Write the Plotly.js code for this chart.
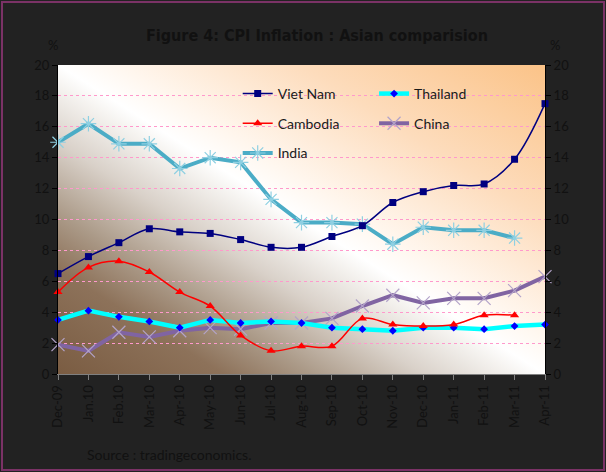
<!DOCTYPE html>
<html>
<head>
<meta charset="utf-8">
<script src="https://cdn.plot.ly/plotly-3.0.1.min.js"></script>
<style>
html, body { margin: 0; padding: 0; background: #222222; }
#wrap { position: relative; width: 606px; height: 472px; }
#chart { width: 606px; height: 472px; }
#frame { position: absolute; left: 1px; top: 1px; right: 1px; bottom: 1px; border: 2px solid #7b3266; pointer-events: none; }
</style>
</head>
<body>
<div id="wrap"><div id="chart"></div><div id="frame"></div></div>
<script>
// monthly CPI inflation, % y/y
const months = ['Dec-09', 'Jan.10', 'Feb.10', 'Mar-10', 'Apr-10', 'May-10', 'Jun-10', 'Jul-10', 'Aug-10',
                'Sep-10', 'Oct-10', 'Nov-10', 'Dec-10', 'Jan-11', 'Feb-11', 'Mar-11', 'Apr-11'];
const vietNam  = [6.5, 7.6, 8.5, 9.4, 9.2, 9.1, 8.7, 8.2, 8.2, 8.9, 9.6, 11.1, 11.8, 12.2, 12.3, 13.9, 17.5];
const thailand = [3.5, 4.1, 3.7, 3.4, 3.0, 3.5, 3.3, 3.4, 3.3, 3.0, 2.9, 2.8, 3.0, 3.0, 2.9, 3.1, 3.2];
const cambodia = [5.3, 6.9, 7.3, 6.6, 5.3, 4.4, 2.5, 1.5, 1.8, 1.8, 3.6, 3.2, 3.1, 3.2, 3.8, 3.8, null];
const china    = [1.9, 1.5, 2.7, 2.4, 2.8, 3.0, 2.9, 3.3, 3.3, 3.6, 4.4, 5.1, 4.6, 4.9, 4.9, 5.4, 6.3];
const india    = [15.0, 16.2, 14.9, 14.9, 13.3, 14.0, 13.7, 11.3, 9.8, 9.8, 9.7, 8.4, 9.5, 9.3, 9.3, 8.8, null];

const ink = '#111111';
const textFont = 'Lato, "Open Sans", sans-serif';

// diagonal brown -> white -> peach fill behind the plot
const bgSvg = "<svg xmlns='http://www.w3.org/2000/svg' width='100' height='100' viewBox='0 0 100 100' preserveAspectRatio='none'>" +
  "<defs><linearGradient id='g' x1='0' y1='1' x2='1' y2='0'>" +
  "<stop offset='0' stop-color='#7a5c42'/>" +
  "<stop offset='0.17' stop-color='#8d725a'/>" +
  "<stop offset='0.26' stop-color='#ab9a88'/>" +
  "<stop offset='0.375' stop-color='#d9d1c9'/>" +
  "<stop offset='0.47' stop-color='#f6f4f1'/>" +
  "<stop offset='0.5' stop-color='#ffffff'/>" +
  "<stop offset='0.56' stop-color='#fff7ef'/>" +
  "<stop offset='0.75' stop-color='#fddcbc'/>" +
  "<stop offset='1' stop-color='#fbc388'/>" +
  "</linearGradient></defs><rect width='100' height='100' fill='url(#g)'/></svg>";
const bgUri = 'data:image/svg+xml;charset=utf-8,' + encodeURIComponent(bgSvg);

const traces = [
  {
    name: 'India', x: months, y: india, legend: 'legend', legendgroup: 'in', legendrank: 3,
    mode: 'lines+markers', cliponaxis: false,
    line: {color: '#4bacc6', width: 4},
    marker: {symbol: 'asterisk-open', size: 13, line: {color: '#8fd0e2', width: 1.2}, color: '#8fd0e2'}
  },
  {
    name: 'China', x: months, y: china, legend: 'legend2', legendgroup: 'cn', legendrank: 2,
    mode: 'lines+markers', cliponaxis: false,
    line: {color: '#8064a2', width: 4},
    marker: {symbol: 'x-thin-open', size: 13, line: {color: '#b3a3c9', width: 1.2}, color: '#b3a3c9'}
  },
  {
    name: 'Thailand', x: months, y: thailand, legend: 'legend2', legendgroup: 'th', legendrank: 1,
    mode: 'lines+markers', cliponaxis: false,
    line: {color: '#00ffff', width: 4.5},
    marker: {symbol: 'diamond', size: 6, color: '#0000ff', line: {width: 0}}
  },
  {
    name: 'Cambodia', x: months, y: cambodia, legend: 'legend', legendgroup: 'kh', legendrank: 2,
    mode: 'lines+markers', cliponaxis: false,
    line: {color: '#ff0000', width: 1.5, shape: 'spline', smoothing: 1},
    marker: {symbol: 'triangle-up', size: 8, color: '#ff0000'}
  },
  {
    name: 'Viet Nam', x: months, y: vietNam, yaxis: 'y2', legend: 'legend', legendgroup: 'vn', legendrank: 1,
    mode: 'lines+markers', cliponaxis: false,
    line: {color: '#000080', width: 1.5, shape: 'spline', smoothing: 1},
    marker: {symbol: 'square', size: 7, color: '#000080'}
  }
];

const yCommon = {
  range: [0, 20], tick0: 0, dtick: 2, ticks: 'outside', ticklen: 5, tickcolor: '#000000',
  showline: true, linecolor: '#000000', linewidth: 1, zeroline: false,
  tickfont: {family: textFont, size: 13, color: ink}, fixedrange: true
};

const legendCommon = {
  xanchor: 'left', yanchor: 'top', bgcolor: 'rgba(0,0,0,0)', borderwidth: 0,
  font: {family: textFont, size: 14, color: '#1a1a1a'}, tracegroupgap: 8.5, orientation: 'v'
};

const layout = {
  width: 606, height: 472,
  paper_bgcolor: '#222222',
  plot_bgcolor: 'rgba(0,0,0,0)',
  margin: {l: 58, r: 61, t: 65, b: 98},
  font: {family: textFont, size: 13, color: ink},
  title: {
    text: '<b>Figure 4: CPI Inflation : Asian comparision</b>',
    font: {family: '"Liberation Sans Narrow", "DejaVu Sans Condensed", "Arial Narrow", sans-serif', size: 16, color: ink},
    x: 0.523, xanchor: 'center', y: 0.926, yanchor: 'middle'
  },
  xaxis: {
    type: 'category', range: [0, 16], tickangle: -90,
    ticks: 'outside', ticklen: 5, tickcolor: '#808080',
    showline: true, linecolor: '#808080', showgrid: false, zeroline: false,
    tickfont: {family: textFont, size: 13, color: ink}, fixedrange: true
  },
  yaxis: Object.assign({}, yCommon, {side: 'left', showgrid: true, gridcolor: '#ff99cc', griddash: 'dot', gridwidth: 1}),
  yaxis2: Object.assign({}, yCommon, {side: 'right', overlaying: 'y', showgrid: false}),
  legend: Object.assign({}, legendCommon, {x: 0.369, y: 0.958}),
  legend2: Object.assign({}, legendCommon, {x: 0.649, y: 0.958}),
  images: [{
    source: bgUri, xref: 'paper', yref: 'paper', x: 0, y: 1, sizex: 1, sizey: 1,
    xanchor: 'left', yanchor: 'top', sizing: 'stretch', layer: 'below'
  }],
  annotations: [
    {text: '%', xref: 'paper', yref: 'paper', x: -0.025, y: 1.065, yanchor: 'middle', showarrow: false, font: {size: 13, color: ink}},
    {text: '%', xref: 'paper', yref: 'paper', x: 1.035, y: 1.065, yanchor: 'middle', showarrow: false, font: {size: 13, color: ink}},
    {text: 'Source : tradingeconomics.', xref: 'paper', yref: 'paper', x: 0.055, y: -0.262,
     xanchor: 'left', yanchor: 'middle', showarrow: false, font: {size: 14, color: ink}}
  ],
  hovermode: false
};

Plotly.newPlot('chart', traces, layout, {displayModeBar: false, staticPlot: true});
</script>
</body>
</html>
